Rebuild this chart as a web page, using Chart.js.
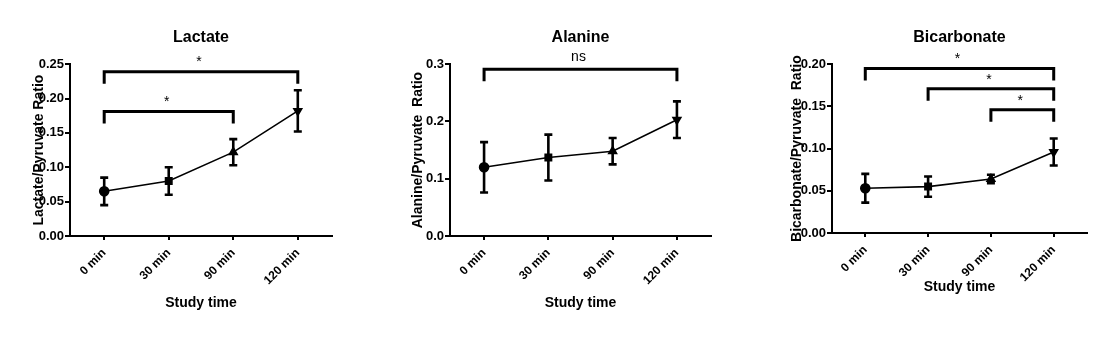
<!DOCTYPE html>
<html>
<head>
<meta charset="utf-8">
<script src="https://cdn.jsdelivr.net/npm/chart.js@4/dist/chart.umd.min.js"></script>
<style>
  body { margin: 0; background: #fff; width: 1110px; height: 337px; position: relative; overflow: hidden; }
  canvas { position: absolute; top: 0; }
</style>
</head>
<body>
<canvas id="lactateChart" width="400" height="337" style="left:0px"></canvas>
<canvas id="alanineChart" width="400" height="337" style="left:380px"></canvas>
<canvas id="bicarbonateChart" width="350" height="337" style="left:760px"></canvas>
<script>
// valeurs
const times = ['0 min', '30 min', '90 min', '120 min'];
const pointShapes = ['circle', 'rect', 'triangle', 'triangle'];
const pointTurns = [0, 0, 0, 180];

const lactate = [0.065, 0.080, 0.122, 0.182];
const lactateErr = [0.020, 0.020, 0.019, 0.030];
const alanine = [0.120, 0.137, 0.148, 0.203];
const alanineErr = [0.044, 0.040, 0.023, 0.032];
const bicarbonate = [0.053, 0.055, 0.064, 0.096];
const bicarbonateErr = [0.017, 0.012, 0.005, 0.016];

// [de, à, hauteur, texte]
const lactateBrackets = [[0, 3, 0.239, '*'], [0, 2, 0.181, '*']];
const alanineBrackets = [[0, 3, 0.291, 'ns']];
const bicarbonateBrackets = [[0, 3, 0.195, '*'], [1, 3, 0.171, '*'], [2, 3, 0.146, '*']];

const FONT = "'Liberation Sans', Arial, sans-serif";

// barres d'erreur (moyenne +/- erreur)
const errorBars = {
  id: 'errorBars',
  beforeDatasetsDraw(chart) {
    const ds = chart.data.datasets[0];
    const x = chart.scales.x, y = chart.scales.y;
    const ctx = chart.ctx;
    ctx.save();
    ctx.strokeStyle = '#000';
    ctx.lineWidth = 2.6;
    ds.data.forEach((p, i) => {
      const e = ds.errors[i];
      const px = x.getPixelForValue(p.x);
      const top = y.getPixelForValue(p.y + e);
      const bot = y.getPixelForValue(p.y - e);
      ctx.beginPath();
      ctx.moveTo(px, top); ctx.lineTo(px, bot);
      ctx.moveTo(px - 4, top); ctx.lineTo(px + 4, top);
      ctx.moveTo(px - 4, bot); ctx.lineTo(px + 4, bot);
      ctx.stroke();
    });
    ctx.restore();
  }
};

// crochets de significativité
const brackets = {
  id: 'brackets',
  afterDraw(chart, args, opts) {
    const x = chart.scales.x, y = chart.scales.y;
    const ctx = chart.ctx;
    ctx.save();
    (opts.items || []).forEach(b => {
      const x1 = x.getPixelForValue(b[0]);
      const x2 = x.getPixelForValue(b[1]);
      const yy = y.getPixelForValue(b[2]);
      ctx.strokeStyle = '#000';
      ctx.lineWidth = 3;
      ctx.lineJoin = 'miter';
      ctx.beginPath();
      ctx.moveTo(x1, yy + 12);
      ctx.lineTo(x1, yy);
      ctx.lineTo(x2, yy);
      ctx.lineTo(x2, yy + 12);
      ctx.stroke();
      ctx.fillStyle = '#000';
      ctx.textAlign = 'center';
      ctx.textBaseline = 'alphabetic';
      ctx.font = '14px ' + FONT;
      const lift = b[3] === 'ns' ? 8 : opts.starLift;
      ctx.fillText(b[3], (x1 + x2) / 2 - 2, yy - lift);
    });
    ctx.restore();
  }
};

function makePanel(id, title, yTitle, values, errors, yMax, yStep, decimals, items, lay) {
  const ctx = document.getElementById(id);
  return new Chart(ctx, {
    type: 'line',
    data: {
      datasets: [{
        data: values.map((v, i) => ({ x: i, y: v })),
        errors: errors,
        borderColor: '#000',
        borderWidth: 1.6,
        backgroundColor: '#000',
        pointStyle: pointShapes,
        pointRotation: pointTurns,
        pointRadius: 4.5,
        pointBackgroundColor: '#000',
        pointBorderColor: '#000',
        tension: 0
      }]
    },
    options: {
      responsive: false,
      animation: false,
      layout: { padding: { left: 0, right: lay.right, top: 0, bottom: 0 } },
      plugins: {
        legend: { display: false },
        tooltip: { enabled: false },
        title: {
          display: true,
          text: title,
          fullSize: false,
          color: '#000',
          font: { family: FONT, size: 16, weight: 'bold' },
          padding: { top: 28, bottom: 17 }
        },
        brackets: { items: items, starLift: lay.starLift }
      },
      scales: {
        x: {
          type: 'linear',
          min: -0.53,
          max: 3.53,
          afterBuildTicks: s => { s.ticks = times.map((t, i) => ({ value: i })); },
          afterFit: s => { s.height = lay.bottom; },
          grid: { drawOnChartArea: false, drawTicks: true, tickLength: 4, lineWidth: 2, color: '#000' },
          border: { display: true, width: 2, color: '#000' },
          ticks: {
            autoSkip: false,
            minRotation: 45,
            maxRotation: 45,
            padding: 6,
            color: '#000',
            font: { family: FONT, size: 12, weight: 'bold' },
            callback: v => times[v]
          },
          title: {
            display: true,
            text: 'Study time',
            color: '#000',
            font: { family: FONT, size: 14, weight: 'bold' },
            padding: { top: 0, bottom: lay.xTitlePad }
          }
        },
        y: {
          min: 0,
          max: yMax,
          afterFit: s => { s.width = lay.axisWidth; },
          grid: { drawOnChartArea: false, drawTicks: true, tickLength: 5, lineWidth: 2, color: '#000' },
          border: { display: true, width: 2, color: '#000' },
          ticks: {
            stepSize: yStep,
            padding: 1,
            color: '#000',
            font: { family: FONT, size: 13, weight: 'bold' },
            callback: v => v.toFixed(decimals)
          },
          title: {
            display: true,
            text: yTitle,
            color: '#000',
            font: { family: FONT, size: 14, weight: 'bold' },
            padding: { top: lay.yTitlePad, bottom: 0 }
          }
        }
      }
    },
    plugins: [errorBars, brackets]
  });
}

makePanel('lactateChart', 'Lactate', 'Lactate/Pyruvate Ratio',
  lactate, lactateErr, 0.25, 0.05, 2, lactateBrackets,
  { axisWidth: 70, right: 68, bottom: 101, xTitlePad: 25, yTitlePad: 31, starLift: 6 });

makePanel('alanineChart', 'Alanine', 'Alanine/Pyruvate  Ratio',
  alanine, alanineErr, 0.3, 0.1, 1, alanineBrackets,
  { axisWidth: 70, right: 69, bottom: 101, xTitlePad: 25, yTitlePad: 30, starLift: 6 });

makePanel('bicarbonateChart', 'Bicarbonate', 'Bicarbonate/Pyruvate  Ratio',
  bicarbonate, bicarbonateErr, 0.2, 0.05, 2, bicarbonateBrackets,
  { axisWidth: 72, right: 23, bottom: 104, xTitlePad: 41, yTitlePad: 29, starLift: 5 });
</script>
</body>
</html>
